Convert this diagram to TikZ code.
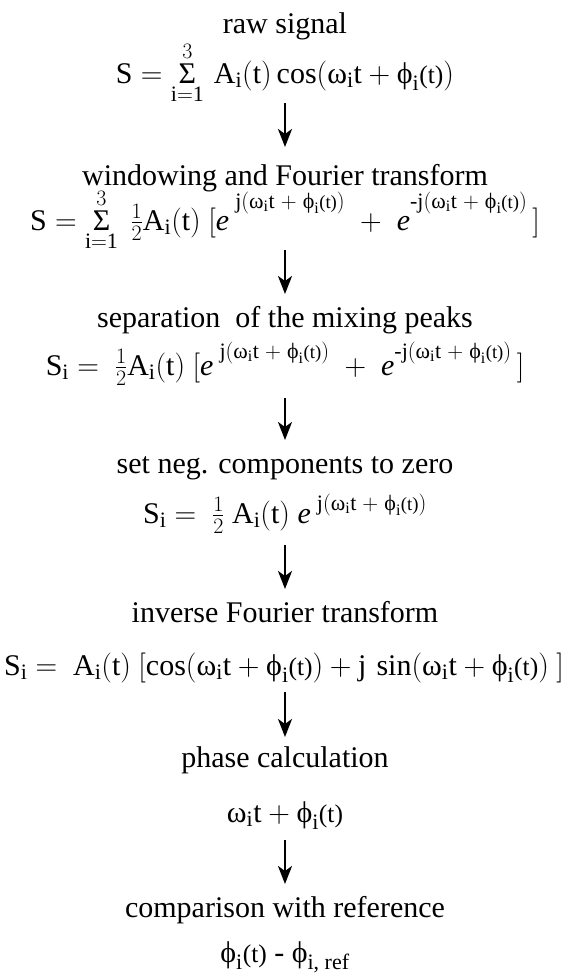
\documentclass[tikz,border=0pt]{standalone}
\usepackage{fix-cm}
\usepackage{amsmath}
\usepackage{fontspec}
\setmainfont{Liberation Serif}
\usetikzlibrary{arrows.meta, positioning}
\DeclareMathSizes{30}{30}{22}{16}

\newcommand{\omi}{\text{ω}_{\mathrm{i}}}
\newcommand{\phit}{\text{ϕ}_{\mathrm{i}}\text{\scalebox{0.85}{(t)}}}
\newcommand{\sumi}{\mathop{\hbox{\fontsize{30}{36}\selectfont Σ}}\limits_{\mathrm{i=1}}^{3}}
\newcommand{\phasearg}[1]{\mathrm{#1j}(\omi\mathrm{t}\;+\;\phit)}
% e with a raised exponent: #1 = extra lift, #2 = exponent
\newcommand{\eexp}[2]{\textit{e}^{\raisebox{#1}{$\scriptstyle#2$}}}

\begin{document}
\begin{tikzpicture}[
		x=1pt, y=-1pt,
		font=\fontsize{30}{36}\selectfont,
		% Style for the step captions
		labelnode/.style={anchor=base, inner sep=0pt},
		% Style for the formulas under the captions
		formula/.style={anchor=base, inner sep=0pt},
		flow/.style={-{Stealth[length=18pt, width=14pt, inset=5pt]}, line width=2.4pt, shorten >=33pt}
		]
		\useasboundingbox (0,0) rectangle (564,977);
		
		% --- 1. RAW SIGNAL ---
		\node[labelnode] (raw) at (285,33) {raw signal};
		\node[formula] (eqraw) at (285,83) {$\mathrm{S} = \sumi\,\mathrm{A_i(t)}\cos(\omi\mathrm{t} + \phit)$};
		
		% --- 2. WINDOWING ---
		\node[labelnode] (win) at (285,185) {windowing and Fourier transform};
		\node[formula] (eqwin) at (285,230) {$\mathrm{S} = \sumi\ \tfrac12 \mathrm{A_i(t)}\ [\eexp{11pt}{\;\phasearg{}} \;+\; \eexp{11pt}{\phasearg{\text{-}}}\,]$};
		
		% --- 3. SEPARATION ---
		\node[labelnode] (sep) at (285,327) {separation\ \ of the mixing peaks};
		\node[formula] (eqsep) at (285,375) {$\mathrm{S_i} =\ \tfrac12\mathrm{A_i(t)}\ [\eexp{6pt}{\;\phasearg{}} \;+\; \eexp{6pt}{\phasearg{\text{-}}}\,]$};
		
		% --- 4. NEGATIVE COMPONENTS ---
		\node[labelnode] (neg) at (285,473) {set neg. components to zero};
		\node[formula] (eqneg) at (285,523) {$\mathrm{S_i} = \ \tfrac12\ \mathrm{A_i(t)}\ \eexp{2pt}{\;\phasearg{}}$};
		
		% --- 5. INVERSE TRANSFORM ---
		\node[labelnode] (inv) at (285,622) {inverse Fourier transform};
		\node[formula] (eqinv) at (284,675) {$\mathrm{S_i} = \ \mathrm{A_i(t)}\ [\cos(\omi\mathrm{t} + \phit) + \mathrm{j}\,\sin(\omi\mathrm{t} + \phit)\ ]$};
		
		% --- 6. PHASE ---
		\node[labelnode] (phase) at (285,767) {phase calculation};
		\node[formula] (eqphase) at (285,822) {$\omi\mathrm{t} + \phit$};
		
		% --- 7. COMPARISON ---
		\node[labelnode] (comp) at (285,917) {comparison with reference};
		\node[formula] (eqcomp) at (285,962) {$\phit\ \text{-}\ \text{ϕ}_{\text{i, ref}}$};
		
		% --- ARROWS ---
		\draw[flow, shorten <=20pt, shorten >=38pt] (eqraw.base) -- (win.base);
		\draw[flow, shorten <=20pt] (eqwin.base) -- (sep.base);
		\draw[flow, shorten <=23pt] (eqsep.base) -- (neg.base);
		\draw[flow, shorten <=22pt] (eqneg.base) -- (inv.base);
		\draw[flow, shorten <=17pt, shorten >=30pt] (eqinv.base -| phase.base) -- (phase.base);
		\draw[flow, shorten <=18pt] (eqphase.base) -- (comp.base);
		
	\end{tikzpicture}
\end{document}
